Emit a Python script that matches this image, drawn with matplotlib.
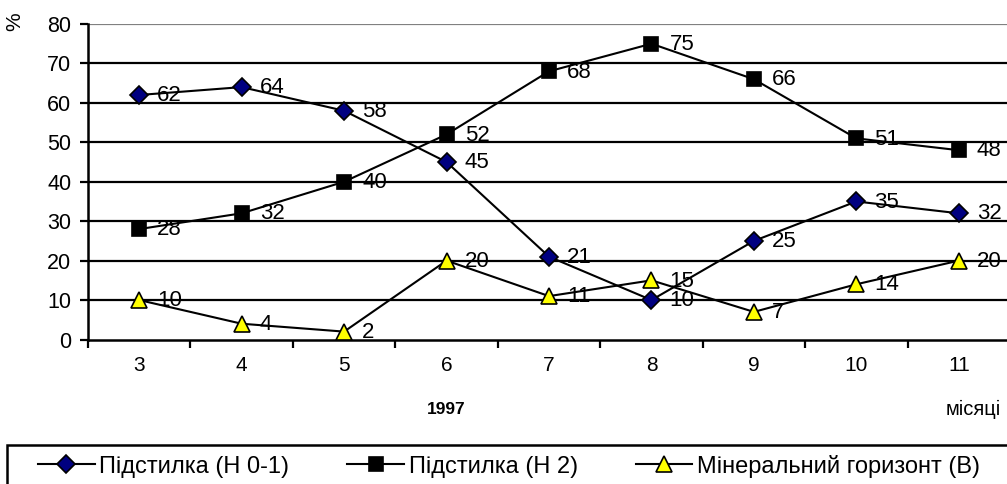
import matplotlib
matplotlib.use("Agg")
import matplotlib.pyplot as plt
from matplotlib.patches import Rectangle

plt.rcParams['font.family'] = ['Liberation Sans', 'DejaVu Sans']

months = ['3', '4', '5', '6', '7', '8', '9', '10', '11']
litter_h01 = [62, 64, 58, 45, 21, 10, 25, 35, 32]
litter_h2 = [28, 32, 40, 52, 68, 75, 66, 51, 48]
mineral_b = [10, 4, 2, 20, 11, 15, 7, 14, 20]
series_names = ['Підстилка (Н 0-1)', 'Підстилка (Н 2)', 'Мінеральний горизонт (В)']
y_ticks = [0, 10, 20, 30, 40, 50, 60, 70, 80]

W, H = 1007, 484
fig = plt.figure(figsize=(W / 100, H / 100), dpi=100)
# plot area runs a little past the right edge, as in the source picture
ax = fig.add_axes([88 / W, (H - 339.5) / H, 922 / W, 315.5 / H])

x = list(range(len(months)))
styles = [
    dict(marker='D', ms=9, mfc='#000080', mec='black'),
    dict(marker='s', ms=10.5, mfc='black', mec='black'),
    dict(marker='^', ms=11, mfc='#FFFF00', mec='black'),
]
handles = []
for vals, st in zip([litter_h01, litter_h2, mineral_b], styles):
    ln, = ax.plot(x, vals, color='black', lw=1.5, mew=1.2, zorder=3, clip_on=False, **st)
    handles.append(ln)
    for xi, v in zip(x, vals):
        ax.annotate(str(v), (xi, v), xytext=(13, -0.5), textcoords='offset points',
                    va='center', ha='left', fontsize=16, zorder=4, annotation_clip=False)

ax.set_xlim(-0.5, len(months) - 0.5)
ax.set_ylim(0, 80)
ax.set_yticks(y_ticks)
ax.set_xticks(x)
ax.set_xticklabels(months)
ax.set_xticks([i - 0.5 for i in range(len(months) + 1)], minor=True)
ax.tick_params(axis='x', which='major', length=0, pad=12, labelsize=15)
ax.tick_params(axis='x', which='minor', length=6, width=1.6, direction='out')
ax.tick_params(axis='y', length=6, width=1.6, labelsize=15.5, pad=6)

for yv in y_ticks[1:]:
    ax.axhline(yv, color='#808080' if yv == 80 else 'black', lw=1.6, zorder=1)

for s in ['top', 'right']:
    ax.spines[s].set_visible(False)
for s in ['left', 'bottom']:
    ax.spines[s].set_linewidth(1.8)

fig.text(15 / W, 1 - 22 / H, '%', rotation=90, ha='center', va='center', fontsize=15)
fig.text(446 / W, 1 - 409 / H, '1997', ha='center', va='center', fontsize=12.5, fontweight='bold')
fig.text(1001 / W, 1 - 409 / H, 'місяці', ha='right', va='center', fontsize=14.5)

# legend frame, cut off at bottom/right like the source
fig.patches.append(Rectangle((7 / W, -0.05), 1.05, (H - 445) / H + 0.05,
                             transform=fig.transFigure, fill=False, ec='black', lw=1.8))
fig.legend(handles, series_names, loc='center left', bbox_to_anchor=(38 / W, 1 - 466 / H),
           ncol=3, frameon=False, fontsize=17, handlelength=2.4, handletextpad=0.2,
           columnspacing=2.45, borderaxespad=0, borderpad=0)

fig.savefig('out.png', dpi=100)
